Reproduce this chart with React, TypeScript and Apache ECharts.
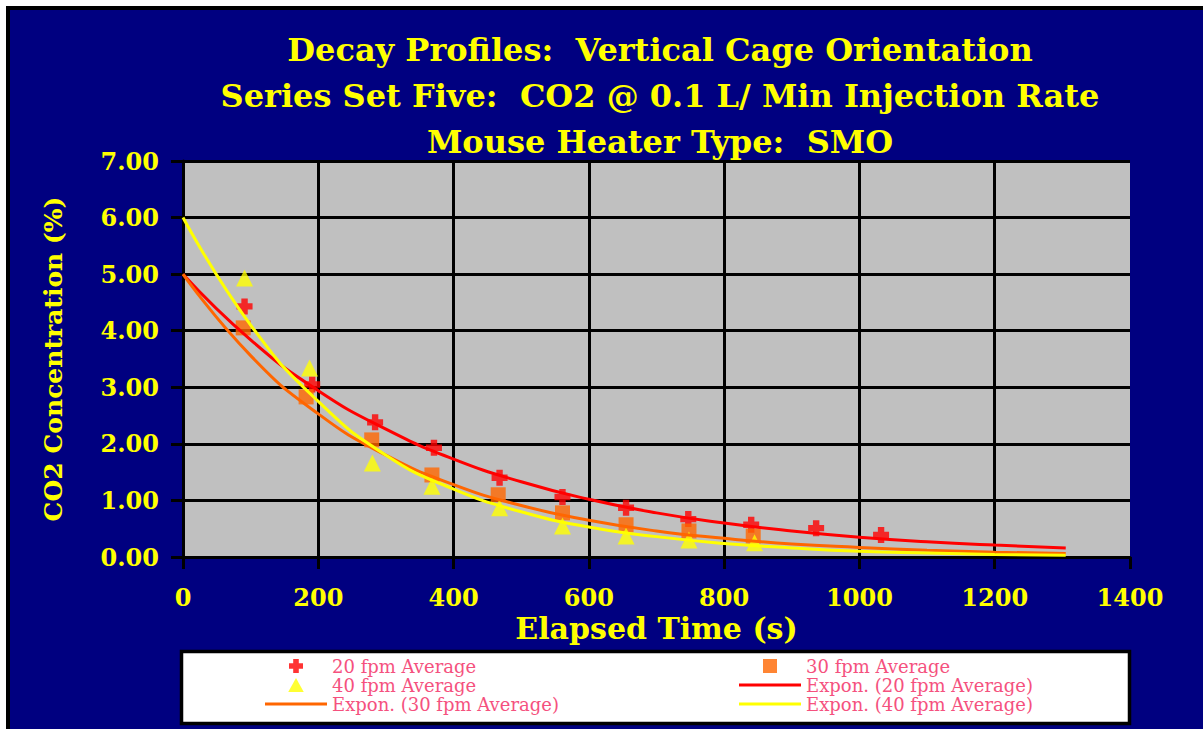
import React, { useEffect, useRef } from "react";
import * as echarts from "echarts";

const titleLines = [
  "Decay Profiles:  Vertical Cage Orientation",
  "Series Set Five:  CO2 @ 0.1 L/ Min Injection Rate",
  "Mouse Heater Type:  SMO",
];

const xTicks = [0, 200, 400, 600, 800, 1000, 1200, 1400];
const yTicks = [0, 1, 2, 3, 4, 5, 6, 7];

// 20 fpm Average (red crosses)
const times20 = [91, 191, 284, 371, 468, 561, 655, 747, 840, 936, 1032];
const fpm20 = [4.43, 3.05, 2.38, 1.93, 1.4, 1.06, 0.87, 0.67, 0.57, 0.51, 0.39];

// 30 fpm Average (orange squares)
const times30 = [89, 182, 279, 368, 466, 561, 655, 748, 843];
const fpm30 = [4.05, 2.83, 2.07, 1.45, 1.1, 0.78, 0.57, 0.46, 0.37];

// 40 fpm Average (yellow triangles)
const times40 = [91, 187, 280, 368, 468, 561, 655, 748, 845];
const fpm40 = [4.93, 3.34, 1.66, 1.25, 0.87, 0.55, 0.37, 0.3, 0.25];

// Exponential trend lines
const trendTimes = [0, 100, 200, 300, 400, 500, 600, 700, 800, 900, 1000, 1100, 1200, 1305];
const trend20 = [5.0, 3.84, 2.94, 2.26, 1.73, 1.33, 1.02, 0.78, 0.6, 0.46, 0.35, 0.27, 0.21, 0.16];
const trend30 = [5.0, 3.56, 2.53, 1.8, 1.28, 0.91, 0.65, 0.46, 0.33, 0.23, 0.17, 0.12, 0.085, 0.06];
const trend40 = [6.0, 4.1, 2.75, 1.8, 1.2, 0.8, 0.53, 0.36, 0.24, 0.16, 0.1, 0.07, 0.045, 0.03];

const seriesNames = [
  "20 fpm Average",
  "30 fpm Average",
  "40 fpm Average",
  "Expon. (20 fpm Average)",
  "Expon. (30 fpm Average)",
  "Expon. (40 fpm Average)",
];

const RED = "#FF0000";
const ORANGE = "#FF6600";
const YELLOW = "#FFFF00";
const NAVY = "#000080";
const FONT = "DejaVu Serif";
const LEGEND_TEXT = "#F5517E";

const plusPath = "path://M3,0H7V3H10V7H7V10H3V7H0V3H3Z";
const squarePath = "path://M0,0H10V10H0Z";
const trianglePath = "path://M5,0L10,9H0Z";
const linePath = "path://M0,0H62V3H0Z";

const zip = (xs: number[], ys: number[]) => xs.map((x, i) => [x, ys[i]]);

export default function App() {
  const ref = useRef<HTMLDivElement>(null);

  useEffect(() => {
    if (!ref.current) return;
    const chart = echarts.init(ref.current, undefined, { renderer: "svg" });
    const legendText = { color: LEGEND_TEXT, fontFamily: FONT, fontSize: 18, lineHeight: 18 };
    const legendCommon = {
      orient: "vertical",
      top: 657,
      padding: 0,
      itemWidth: 62,
      itemHeight: 14,
      itemGap: 1,
      symbolKeepAspect: true,
      textStyle: legendText,
    };
    const axisFont = { color: YELLOW, fontFamily: FONT, fontWeight: "bold" };
    chart.setOption({
      animation: false,
      backgroundColor: NAVY,
      title: {
        text: titleLines.join("\n"),
        left: 660,
        top: 27,
        padding: 0,
        textAlign: "center",
        textStyle: { ...axisFont, fontSize: 32, lineHeight: 46 },
      },
      graphic: [
        { type: "rect", z: 100, shape: { x: 0, y: 0, width: 1203, height: 6 }, style: { fill: "#fff" } },
        { type: "rect", z: 100, shape: { x: 0, y: 0, width: 6, height: 729 }, style: { fill: "#fff" } },
        { type: "rect", z: 100, shape: { x: 6, y: 6, width: 1197, height: 4 }, style: { fill: "#000" } },
        { type: "rect", z: 100, shape: { x: 6, y: 6, width: 4, height: 723 }, style: { fill: "#000" } },
        {
          type: "rect",
          z: 0,
          shape: { x: 181.5, y: 651.5, width: 948, height: 72 },
          style: { fill: "#fff", stroke: "#000", lineWidth: 3.5 },
        },
      ],
      legend: [
        {
          ...legendCommon,
          left: 265,
          data: [
            { name: seriesNames[0], icon: plusPath },
            { name: seriesNames[2], icon: trianglePath },
            { name: seriesNames[4], icon: linePath },
          ],
        },
        {
          ...legendCommon,
          left: 739,
          data: [
            { name: seriesNames[1], icon: squarePath },
            { name: seriesNames[3], icon: linePath },
            { name: seriesNames[5], icon: linePath },
          ],
        },
      ],
      grid: {
        left: 183,
        right: 73,
        top: 161,
        bottom: 172,
        show: true,
        backgroundColor: "#C0C0C0",
        borderWidth: 0,
      },
      xAxis: {
        type: "value",
        min: xTicks[0],
        max: xTicks[xTicks.length - 1],
        interval: 200,
        name: "Elapsed Time (s)",
        nameLocation: "middle",
        nameGap: 49,
        nameTextStyle: { ...axisFont, fontSize: 30 },
        axisLine: { show: true, onZero: false, lineStyle: { color: "#000", width: 3 } },
        axisTick: { show: true, inside: false, length: 12, lineStyle: { color: "#000", width: 3 } },
        axisLabel: { ...axisFont, fontSize: 24, margin: 28, formatter: (v: number) => String(v) },
        splitLine: { show: true, showMaxLine: false, lineStyle: { color: "#000", width: 3 } },
      },
      yAxis: {
        type: "value",
        min: yTicks[0],
        max: yTicks[yTicks.length - 1],
        interval: 1,
        name: "CO2 Concentration (%)",
        nameLocation: "middle",
        nameGap: 117,
        nameTextStyle: { ...axisFont, fontSize: 25 },
        axisLine: { show: true, onZero: false, lineStyle: { color: "#000", width: 3 } },
        axisTick: { show: true, inside: false, length: 12, lineStyle: { color: "#000", width: 3 } },
        axisLabel: {
          ...axisFont,
          fontSize: 24,
          margin: 24,
          formatter: (v: number) => v.toFixed(2),
        },
        splitLine: { show: true, lineStyle: { color: "#000", width: 3 } },
      },
      series: [
        {
          name: seriesNames[0],
          type: "scatter",
          symbol: plusPath,
          symbolSize: 16,
          itemStyle: { color: RED },
          data: zip(times20, fpm20),
          z: 2,
        },
        {
          name: seriesNames[1],
          type: "scatter",
          symbol: squarePath,
          symbolSize: 15,
          itemStyle: { color: ORANGE },
          data: zip(times30, fpm30),
          z: 2,
        },
        {
          name: seriesNames[2],
          type: "scatter",
          symbol: trianglePath,
          symbolSize: 17,
          itemStyle: { color: YELLOW },
          data: zip(times40, fpm40),
          z: 2,
        },
        {
          name: seriesNames[3],
          type: "line",
          symbol: "none",
          smooth: true,
          lineStyle: { color: RED, width: 3 },
          itemStyle: { color: RED },
          data: zip(trendTimes, trend20),
          z: 3,
        },
        {
          name: seriesNames[4],
          type: "line",
          symbol: "none",
          smooth: true,
          lineStyle: { color: ORANGE, width: 3 },
          itemStyle: { color: ORANGE },
          data: zip(trendTimes, trend30),
          z: 3,
        },
        {
          name: seriesNames[5],
          type: "line",
          symbol: "none",
          smooth: true,
          lineStyle: { color: YELLOW, width: 3 },
          itemStyle: { color: YELLOW },
          data: zip(trendTimes, trend40),
          z: 3,
        },
      ],
    });
    return () => chart.dispose();
  }, []);

  return (
    <div
      ref={ref}
      style={{ position: "absolute", left: 0, top: 0, width: 1203, height: 729 }}
    />
  );
}
